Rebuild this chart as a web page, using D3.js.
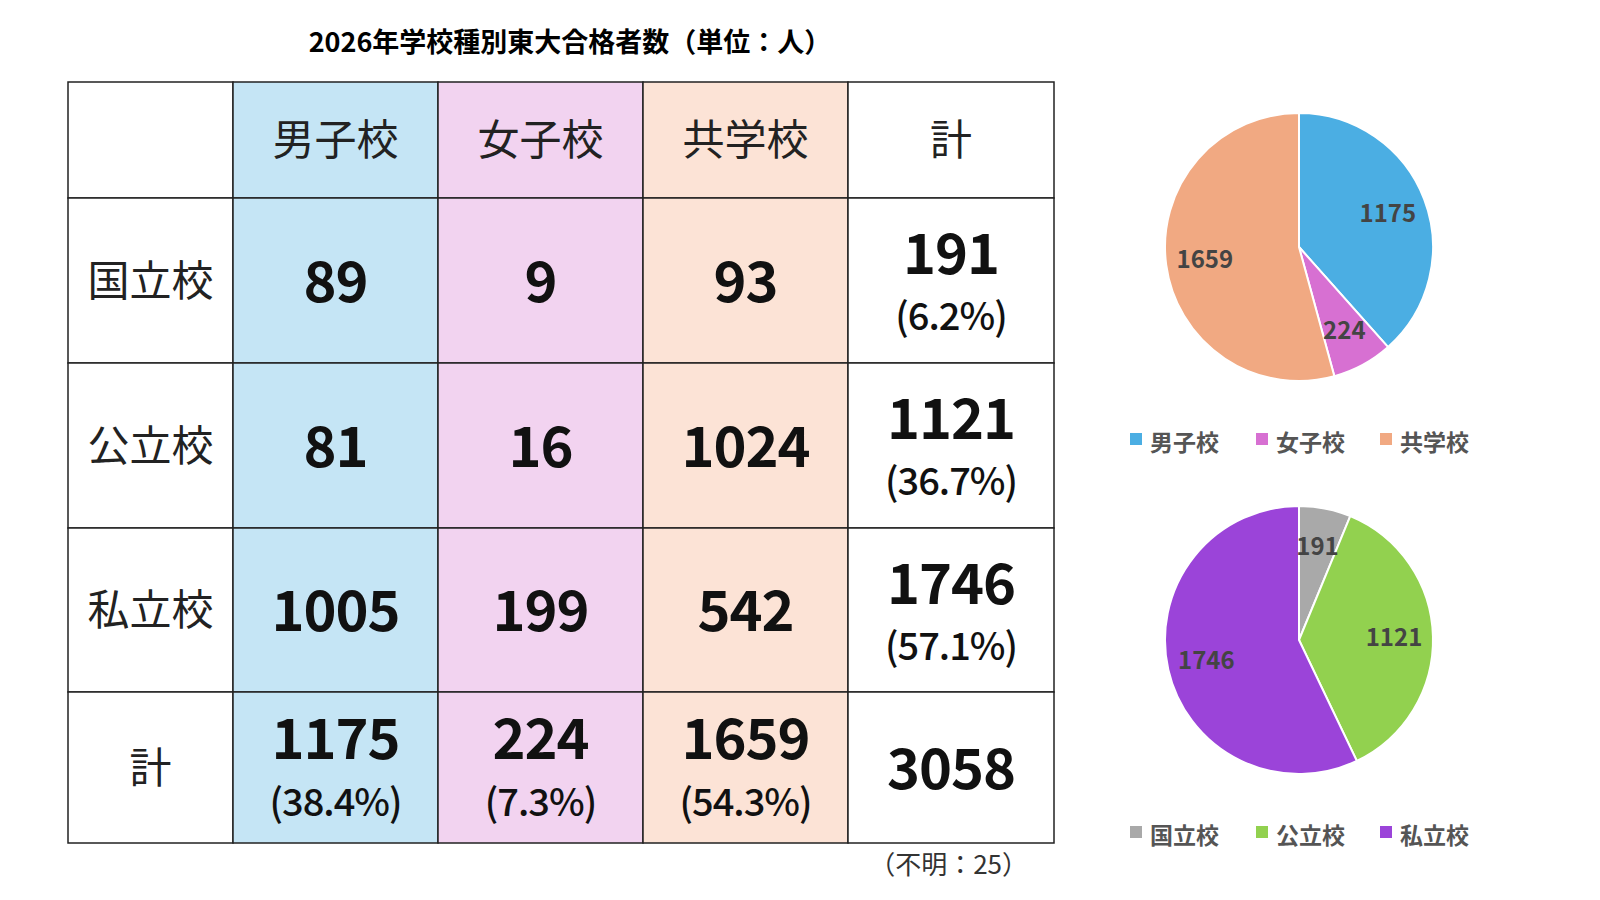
<!DOCTYPE html>
<html><head><meta charset="utf-8">
<script src="https://cdn.jsdelivr.net/npm/d3@7"></script>
<style>body{margin:0;background:#fff}svg{font-family:"Noto Sans CJK JP",sans-serif}</style>
</head><body><div id="chart"></div>
<script>
const types = ["男子校", "女子校", "共学校"];
const owners = ["国立校", "公立校", "私立校"];
const counts = [[89, 9, 93], [81, 16, 1024], [1005, 199, 542]];
const typeColors = ["#C5E5F5", "#F2D3F0", "#FCE3D6"];
const typePieColors = ["#4BAEE3", "#D770D2", "#F1A982"];
const ownerPieColors = ["#A9A9A9", "#92D14F", "#9B44D9"];

const W = 1600, H = 900;
const svg = d3.select("#chart").append("svg").attr("width", W).attr("height", H);

svg.append("text").attr("x", 570).attr("y", 52).attr("text-anchor", "middle")
  .attr("font-size", 27).attr("font-weight", "bold").text("2026年学校種別東大合格者数（単位：人）");

const colTotals = types.map((_, j) => d3.sum(counts, r => r[j]));
const rowTotals = counts.map(r => d3.sum(r));
const grand = d3.sum(rowTotals);
const pct = v => "(" + (v / grand * 100).toFixed(1) + "%)";

const x = d3.scaleOrdinal().domain([0, 1, 2, 3, 4]).range([68, 233, 438, 643, 848]);
const colW = [165, 205, 205, 205, 206];
const rowY = [82, 198, 363, 528, 692];
const rowH = [116, 165, 165, 164, 151];

const cells = [];
cells.push({r: 0, c: 0, main: ""});
types.forEach((t, j) => cells.push({r: 0, c: j + 1, head: t}));
cells.push({r: 0, c: 4, head: "計"});
owners.forEach((o, i) => {
  cells.push({r: i + 1, c: 0, head: o});
  counts[i].forEach((v, j) => cells.push({r: i + 1, c: j + 1, main: v}));
  cells.push({r: i + 1, c: 4, main: rowTotals[i], sub: pct(rowTotals[i])});
});
cells.push({r: 4, c: 0, head: "計"});
colTotals.forEach((v, j) => cells.push({r: 4, c: j + 1, main: v, sub: pct(v)}));
cells.push({r: 4, c: 4, main: grand});

const g = svg.selectAll("g.cell").data(cells).join("g").attr("class", "cell")
  .attr("transform", d => `translate(${x(d.c)},${rowY[d.r]})`);
g.append("rect").attr("width", d => colW[d.c]).attr("height", d => rowH[d.r])
  .attr("fill", d => d.c >= 1 && d.c <= 3 ? typeColors[d.c - 1] : "#fff")
  .attr("stroke", "#222").attr("stroke-width", 1.5);
g.filter(d => d.head).append("text")
  .attr("x", d => colW[d.c] / 2).attr("y", d => rowH[d.r] / 2 + 15)
  .attr("text-anchor", "middle").attr("font-size", 42).attr("fill", "#222").text(d => d.head);
g.filter(d => d.main !== undefined && d.main !== "").append("text")
  .attr("x", d => colW[d.c] / 2).attr("y", d => d.sub ? (d.r === 4 ? 67 : 76) : rowH[d.r] / 2 + 21)
  .attr("text-anchor", "middle").attr("font-size", 56).attr("font-weight", "bold")
  .attr("letter-spacing", -1).attr("fill", "#111").text(d => d.main);
g.filter(d => d.sub).append("text")
  .attr("x", d => colW[d.c] / 2).attr("y", d => d.r === 4 ? 124 : 132)
  .attr("text-anchor", "middle").attr("font-size", 38).attr("font-weight", 500)
  .attr("letter-spacing", -1).attr("fill", "#111").text(d => d.sub);

svg.append("text").attr("x", 1028).attr("y", 874).attr("text-anchor", "end")
  .attr("font-size", 26).attr("fill", "#333").text("（不明：25）");

function pie(cx, cy, values, labels, colors, ly) {
  const arcs = d3.pie().sort(null)(values);
  const arc = d3.arc().innerRadius(0).outerRadius(134);
  const lab = d3.arc().innerRadius(95).outerRadius(95);
  const pg = svg.append("g").attr("transform", `translate(${cx},${cy})`);
  pg.selectAll("path").data(arcs).join("path").attr("d", arc)
    .attr("fill", (d, i) => colors[i]).attr("stroke", "#fff").attr("stroke-width", 2);
  pg.selectAll("text").data(arcs).join("text")
    .attr("transform", d => `translate(${lab.centroid(d)})`).attr("dy", "0.35em")
    .attr("text-anchor", "middle").attr("font-size", 24).attr("font-weight", "bold")
    .attr("fill", "#444").text(d => d.data);
  const lx = [1130, 1256, 1380];
  labels.forEach((l, i) => {
    svg.append("rect").attr("x", lx[i]).attr("y", ly - 9).attr("width", 12).attr("height", 12).attr("fill", colors[i]);
    svg.append("text").attr("x", lx[i] + 20).attr("y", ly + 9).attr("font-size", 23)
      .attr("font-weight", "bold").attr("fill", "#555").text(l);
  });
}
pie(1299, 247, colTotals, types, typePieColors, 442);
pie(1299, 640, rowTotals, owners, ownerPieColors, 835);
</script></body></html>
